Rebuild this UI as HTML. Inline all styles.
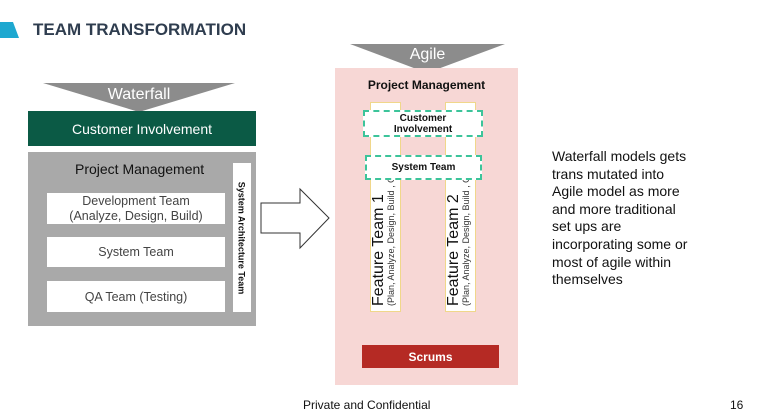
<!DOCTYPE html>
<html><head><meta charset="utf-8"><style>
body{margin:0;width:758px;height:420px;background:#fff;position:relative;overflow:hidden;font-family:"Liberation Sans",sans-serif}
.a{position:absolute}
.c{display:flex;align-items:center;justify-content:center;text-align:center}
.ft{width:200px;height:30px;transform:rotate(-90deg);line-height:1;overflow:hidden;white-space:nowrap}
</style></head><body>
<svg class="a" style="left:0;top:0" width="758" height="420">
<polygon points="0,22 13,22 19,38 0,38" fill="#1ea8d0"/>
<polygon points="43,83 235,83 139,112" fill="#8c8c8c"/>
<polygon points="350,44 505,44 427,73" fill="#8c8c8c"/>
<polygon points="261,203 300,203 300,189 329,218 300,248 300,233 261,233" fill="#fff" stroke="#333" stroke-width="1"/>
<line x1="401" y1="322" x2="410" y2="342" stroke="#333"/>
<polygon points="410,344 406,337 412,337" fill="#333"/>
<line x1="440" y1="322" x2="431" y2="342" stroke="#333"/>
<polygon points="431,344 429,337 435,337" fill="#333"/>
</svg>
<div class="a" style="left:33px;top:20px;font-size:17px;font-weight:bold;color:#2f3d4f">TEAM TRANSFORMATION</div>
<div class="a c" style="left:43px;top:86px;width:192px;color:#fff;font-size:16px">Waterfall</div>
<div class="a c" style="left:28px;top:111px;width:228px;height:35px;background:#0b5a45;color:#fff;font-size:14px">Customer Involvement</div>
<div class="a" style="left:28px;top:152px;width:228px;height:174px;background:#a9a9a9"></div>
<div class="a" style="left:75px;top:161px;font-size:14px;color:#111">Project Management</div>
<div class="a c" style="left:47px;top:193px;width:178px;height:31px;background:#fff;font-size:12.5px;color:#444;line-height:15px">Development Team<br>(Analyze, Design, Build)</div>
<div class="a c" style="left:47px;top:237px;width:178px;height:30px;background:#fff;font-size:12.5px;color:#444">System Team</div>
<div class="a c" style="left:47px;top:281px;width:178px;height:31px;background:#fff;font-size:12.5px;color:#444">QA Team (Testing)</div>
<div class="a" style="left:233px;top:163px;width:18px;height:149px;background:#fff"></div>
<div class="a c" style="left:168px;top:229px;width:147px;height:18px;transform:rotate(90deg);font-size:9px;font-weight:bold;color:#111">System Architecture Team</div>
<div class="a" style="left:335px;top:68px;width:183px;height:317px;background:#f7d7d5"></div>
<div class="a c" style="left:350px;top:46px;width:155px;color:#fff;font-size:16px">Agile</div>
<div class="a c" style="left:335px;top:78px;width:183px;font-size:12px;font-weight:bold;color:#111">Project Management</div>
<div class="a" style="left:370px;top:102px;width:31px;height:210px;background:#fff;border:1px solid #f0d78a;box-sizing:border-box"></div>
<div class="a" style="left:445px;top:102px;width:31px;height:210px;background:#fff;border:1px solid #f0d78a;box-sizing:border-box"></div>
<div class="a ft" style="left:286px;top:195px">
<div style="font-size:16px;color:#111;padding-left:4px">Feature Team 1</div><div style="font-size:9px;color:#333;padding-left:4px">(Plan, Analyze, Design, Build , QA</div></div>
<div class="a ft" style="left:361px;top:195px">
<div style="font-size:16px;color:#111;padding-left:4px">Feature Team 2</div><div style="font-size:9px;color:#333;padding-left:4px">(Plan, Analyze, Design, Build , QA</div></div>
<div class="a c" style="left:363px;top:110px;width:120px;height:27px;background:#fff;border:2px dashed #3cc49a;box-sizing:border-box;font-size:10px;font-weight:bold;line-height:11px;color:#111">Customer<br>Involvement</div>
<div class="a c" style="left:365px;top:155px;width:117px;height:25px;background:#fff;border:2px dashed #3cc49a;box-sizing:border-box;font-size:10px;font-weight:bold;color:#111">System Team</div>
<div class="a c" style="left:362px;top:345px;width:137px;height:23px;background:#b52a24;color:#fff;font-size:12px;font-weight:bold">Scrums</div>
<div class="a" style="left:552px;top:148px;font-size:14px;line-height:17.6px;color:#111">Waterfall models gets<br>trans mutated into<br>Agile model as more<br>and more traditional<br>set ups are<br>incorporating some or<br>most of agile within<br>themselves</div>
<div class="a" style="left:303px;top:398px;font-size:12px;color:#111">Private and Confidential</div>
<div class="a" style="left:730px;top:398px;font-size:12px;color:#111">16</div>
</body></html>
